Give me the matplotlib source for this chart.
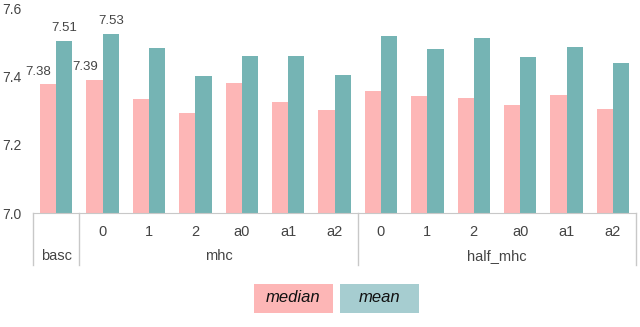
import numpy as np
import matplotlib.pyplot as plt
from matplotlib.patches import Rectangle
import matplotlib.transforms as mtransforms

plt.rcParams['font.family'] = ['Liberation Sans', 'DejaVu Sans']

# data
groups = ["basc", "mhc", "half_mhc"]
group_sizes = [1, 6, 6]
sub_labels = ["", "0", "1", "2", "a0", "a1", "a2", "0", "1", "2", "a0", "a1", "a2"]
median = [7.378, 7.392, 7.334, 7.295, 7.383, 7.327, 7.304, 7.360, 7.345, 7.339, 7.319, 7.348, 7.307]
mean = [7.507, 7.527, 7.486, 7.403, 7.462, 7.462, 7.406, 7.521, 7.482, 7.515, 7.459, 7.488, 7.441]
labelled = [0, 1]  # only the first two groups carry value labels

pink = "#fdb6b6"
teal = "#75b4b4"
txt = "#444444"

fig = plt.figure(figsize=(6.4, 3.27), dpi=100)
ax = fig.add_axes([0.0516, 0.3486, 0.9424, 0.624])

x = np.arange(len(median))
w = 0.35
ax.bar(x - w / 2, median, w, color=pink)
ax.bar(x + w / 2, mean, w, color=teal)

for i in labelled:
    ax.annotate("%.2f" % median[i], (x[i] - w / 2, median[i]), xytext=(-7, 5),
                textcoords="offset points", ha="center", va="bottom", fontsize=9.5, color=txt)
    ax.annotate("%.2f" % mean[i], (x[i] + w / 2, mean[i]), xytext=(0, 5),
                textcoords="offset points", ha="center", va="bottom", fontsize=9.5, color=txt)

ax.set_xlim(-0.5, len(median) - 0.5)
ax.set_ylim(7.0, 7.6)
ax.set_yticks([7.0, 7.2, 7.4, 7.6])
ax.set_yticklabels(["7.0", "7.2", "7.4", "7.6"])
ax.tick_params(axis="y", length=0, labelsize=10, labelcolor=txt, pad=8)
ax.set_xticks([])
for s in ["top", "right", "left"]:
    ax.spines[s].set_visible(False)
ax.spines["bottom"].set_color("#c8c8c8")

# multi-level category axis
trans = mtransforms.blended_transform_factory(ax.transData, ax.transAxes)
for i, lab in enumerate(sub_labels):
    ax.text(x[i], -0.093, lab, transform=trans, ha="center", va="center", fontsize=10.5, color=txt)

edges = [-0.5]
for n in group_sizes:
    edges.append(edges[-1] + n)
for e in edges:
    ax.plot([e, e], [0, -0.255], transform=trans, color="#c8c8c8", lw=1, clip_on=False)
for g, a, b in zip(groups, edges[:-1], edges[1:]):
    ax.text((a + b) / 2, -0.21, g, transform=trans, ha="center", va="center", fontsize=10.5, color=txt)

# legend boxes
for x0, col, lab in [(254, pink, "median"), (340, "#a6cdd0", "mean")]:
    fig.patches.append(Rectangle((x0 / 640, 1 - 312.5 / 327), 79 / 640, 28.5 / 327,
                                 transform=fig.transFigure, facecolor=col, edgecolor="none"))
    fig.text((x0 + 39.5) / 640, 1 - 298 / 327, lab, ha="center", va="center",
             fontsize=12, style="italic", color="#111111")

fig.savefig("out.png", dpi=100)
